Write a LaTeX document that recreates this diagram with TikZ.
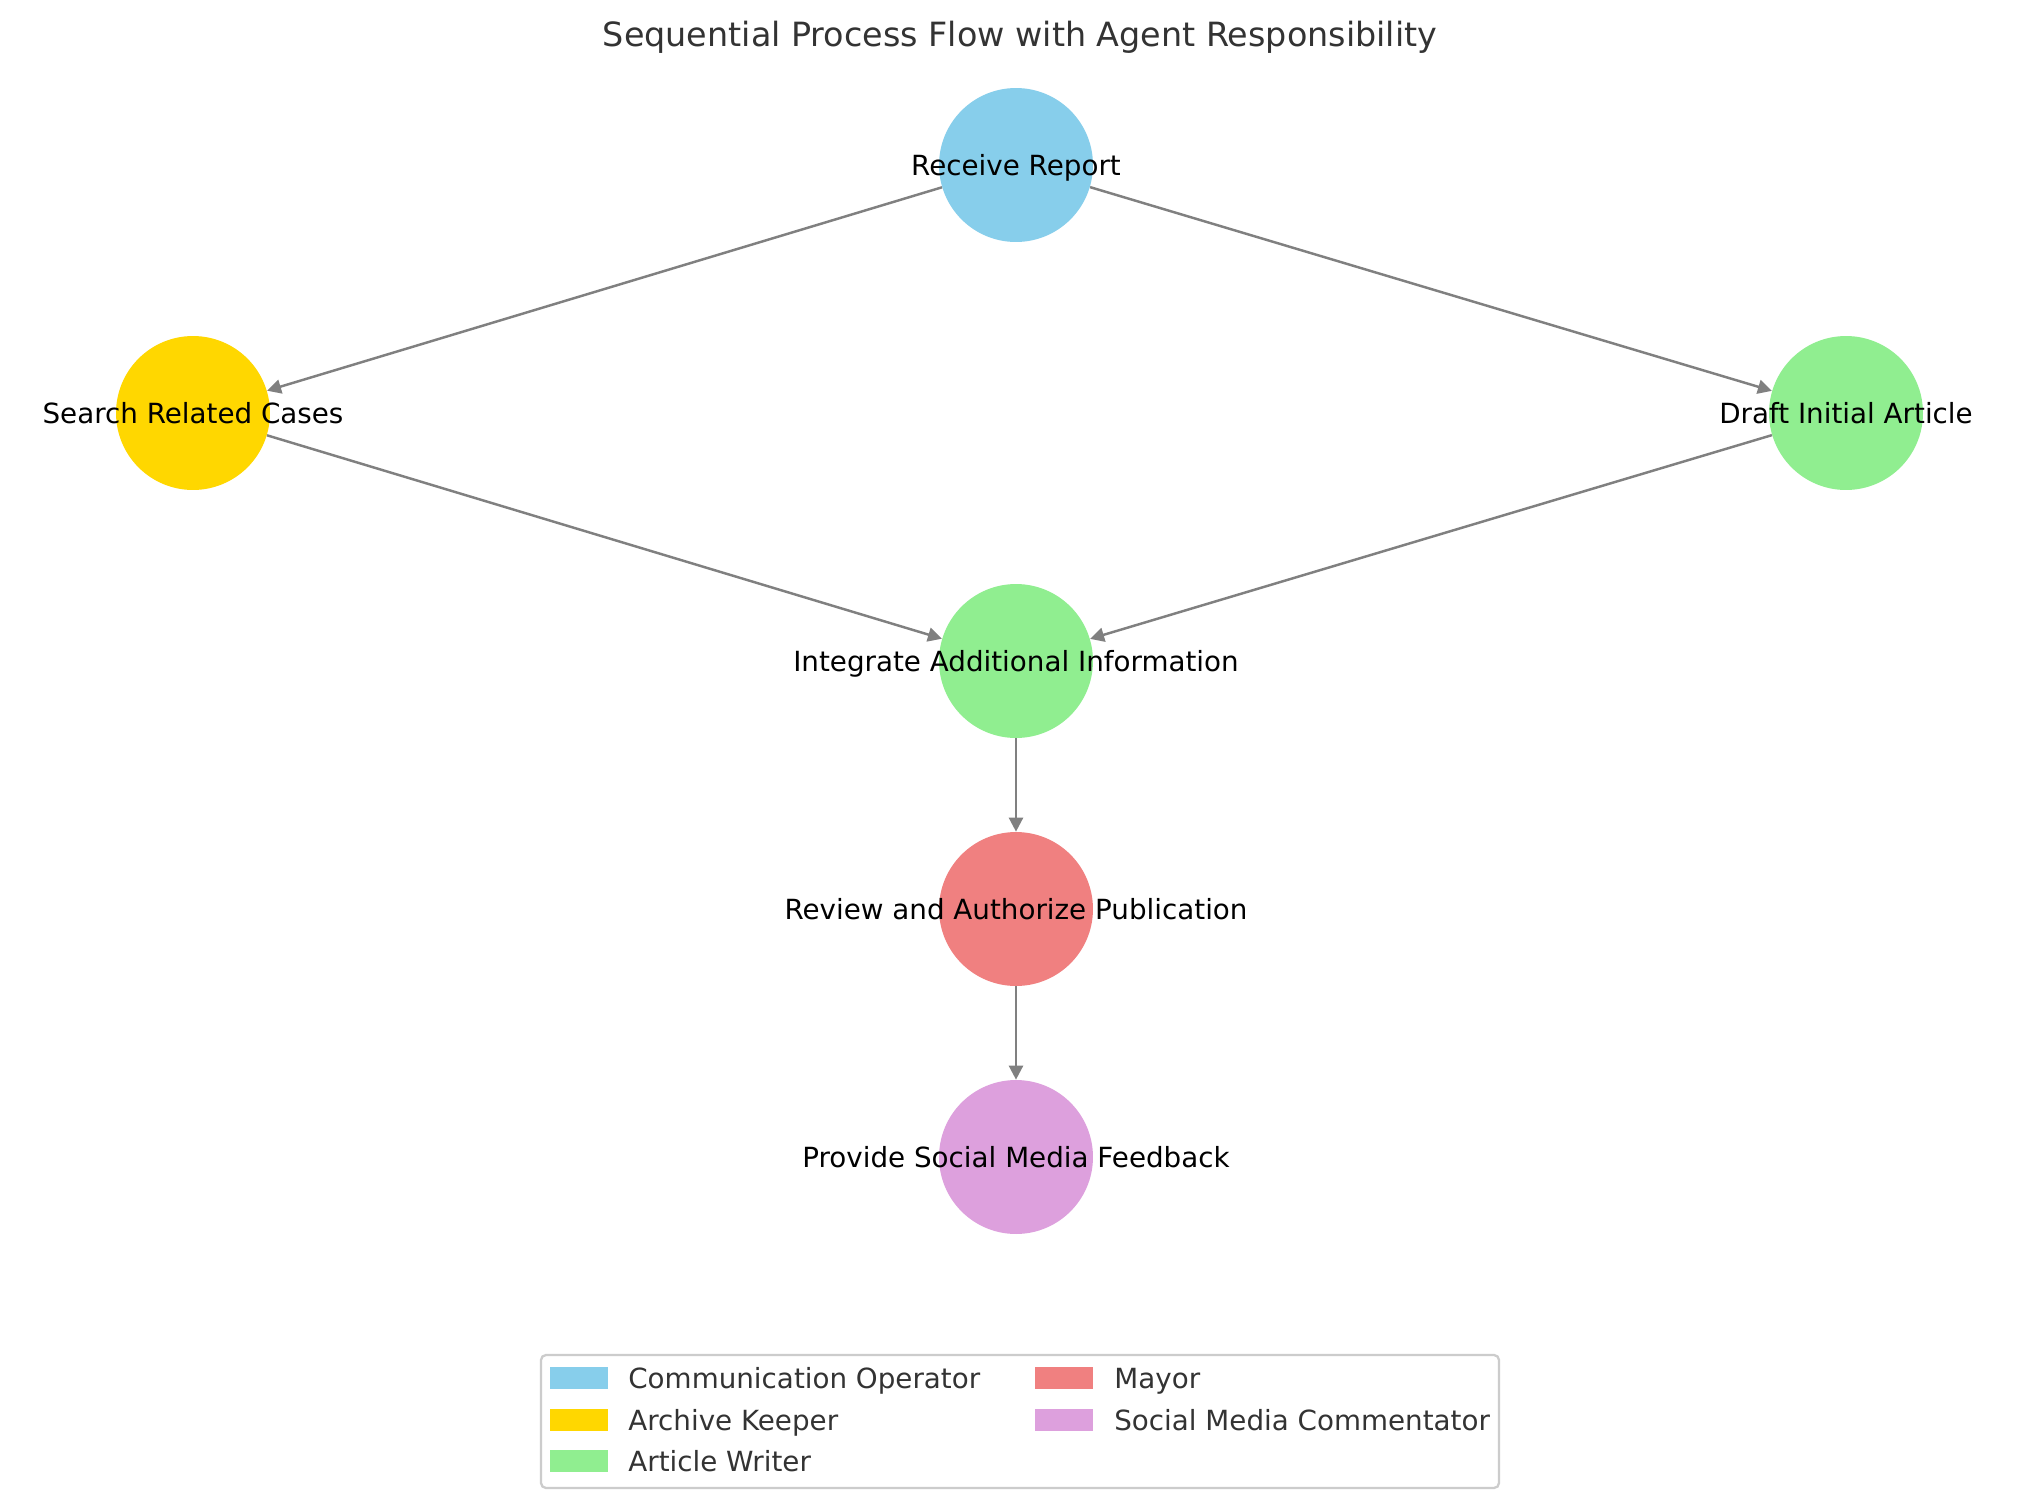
\documentclass[tikz,border=0pt]{standalone}
\usepackage{fontspec}
\setmainfont{DejaVu Sans}
\usetikzlibrary{arrows.meta}
\definecolor{cskyblue}{HTML}{87CEEB}
\definecolor{cgold}{HTML}{FFD700}
\definecolor{clightgreen}{HTML}{90EE90}
\definecolor{clightcoral}{HTML}{F08080}
\definecolor{cplum}{HTML}{DDA0DD}
\definecolor{cdark}{HTML}{333333}
\definecolor{cedge}{HTML}{808080}
\definecolor{cframe}{HTML}{CCCCCC}
\tikzset{
  proc/.style={circle, minimum size=3.08cm, inner sep=0pt, draw=none},
  lbl/.style={font=\fontsize{15.8}{19}\selectfont, text=black, inner sep=0pt, anchor=base, yshift=-0.2cm},
  flow/.style={draw=cedge, line width=1.4pt, -{Triangle[length=0.28cm,width=0.28cm]}},
  legpatch/.style={minimum width=1.16cm, minimum height=0.44cm, inner sep=0pt, draw=none},
  legtext/.style={font=\fontsize{15.8}{19}\selectfont, text=cdark, anchor=base west, inner sep=0pt, yshift=-0.2cm},
}
\begin{document}
\begin{tikzpicture}[x=0.02cm,y=-0.02cm]
\useasboundingbox[fill=white] (0,0) rectangle (2039,1508);
\node[font=\fontsize{19}{23}\selectfont, text=cdark, anchor=base, inner sep=0pt] (title) at (1020,46.5) {Sequential Process Flow with Agent Responsibility};
% nodes
\node[proc, fill=cskyblue] (rr) at (1016,165) {};
\node[proc, fill=cgold] (src) at (193,413) {};
\node[proc, fill=clightgreen] (dia) at (1846,413) {};
\node[proc, fill=clightgreen] (iai) at (1016,661) {};
\node[proc, fill=clightcoral] (rap) at (1016,909) {};
\node[proc, fill=cplum] (psm) at (1016,1157) {};
% edges
\draw[flow] (rr) -- (src);
\draw[flow] (rr) -- (dia);
\draw[flow] (src) -- (iai);
\draw[flow] (dia) -- (iai);
\draw[flow] (iai) -- (rap);
\draw[flow] (rap) -- (psm);
% labels
\node[lbl] (lrr) at (rr.center) {Receive Report};
\node[lbl] (lsrc) at (src.center) {Search Related Cases};
\node[lbl] (ldia) at (dia.center) {Draft Initial Article};
\node[lbl] (liai) at (iai.center) {Integrate Additional Information};
\node[lbl] (lrap) at (rap.center) {Review and Authorize Publication};
\node[lbl] (lpsm) at (psm.center) {Provide Social Media Feedback};
% legend
\draw[cframe, line width=1.3pt, rounded corners=0.1cm, fill=white] (541,1355) rectangle (1499,1488);
\node[legpatch, fill=cskyblue] (p1) at (579,1378) {};
\node[legtext] (t1) at (628,1378) {Communication Operator};
\node[legpatch, fill=cgold] (p2) at (579,1420) {};
\node[legtext] (t2) at (628,1420) {Archive Keeper};
\node[legpatch, fill=clightgreen] (p3) at (579,1461) {};
\node[legtext] (t3) at (628,1461) {Article Writer};
\node[legpatch, fill=clightcoral] (p4) at (1064,1378) {};
\node[legtext] (t4) at (1114,1378) {Mayor};
\node[legpatch, fill=cplum] (p5) at (1064,1420) {};
\node[legtext] (t5) at (1114,1420) {Social Media Commentator};
\end{tikzpicture}
\end{document}
